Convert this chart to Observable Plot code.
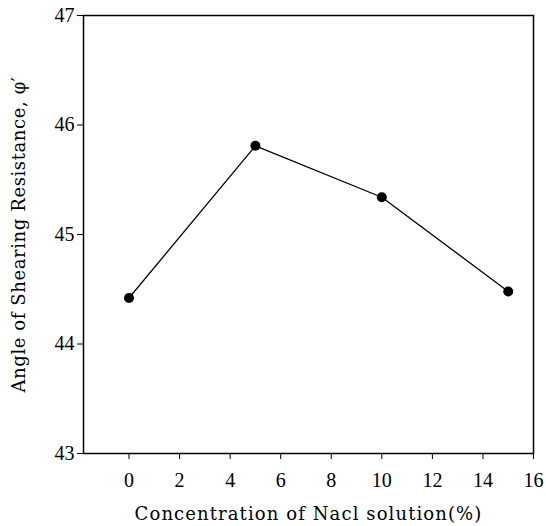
<!DOCTYPE html>
<html>
<head>
<meta charset="utf-8">
<script src="https://cdn.jsdelivr.net/npm/d3@7"></script>
<script src="https://cdn.jsdelivr.net/npm/@observablehq/plot@0.6"></script>
<style>
  html, body { margin: 0; padding: 0; background: #fff; }
  svg { display: block; }
  g[aria-label="x-axis label"] text { letter-spacing: 1.1px; }
  g[aria-label="y-axis label"] text { letter-spacing: 0.6px; }
</style>
</head>
<body>
<div id="chart"></div>
<script>
const concentration = [0, 5, 10, 15];
const angle = [44.42, 45.81, 45.34, 44.48];
const xTicks = [0, 2, 4, 6, 8, 10, 12, 14, 16];
const yTicks = [43, 44, 45, 46, 47];
const xTitle = "Concentration of Nacl solution(%)";
const yTitle = "Angle of Shearing Resistance, \u03C6\u2032";

const data = concentration.map((c, i) => ({c, a: angle[i]}));
const tickFont = "'Liberation Serif', 'DejaVu Serif', serif";
const titleFont = "'DejaVu Serif', 'Liberation Serif', serif";

const chart = Plot.plot({
  width: 546,
  height: 526,
  marginLeft: 83,
  marginRight: 13,
  marginTop: 15,
  marginBottom: 73,
  style: {fontFamily: tickFont, fontSize: "20px", color: "#000", background: "#fff"},
  x: {domain: [-1.8, 16]},
  y: {domain: [43, 47]},
  marks: [
    Plot.frame({stroke: "#000", strokeWidth: 1.5}),
    Plot.axisX({ticks: xTicks, tickFormat: "d", tickSize: 6, tickPadding: 13, fontSize: 20,
      fontFamily: tickFont, label: null}),
    Plot.axisX({ticks: [], label: xTitle, labelAnchor: "center", labelOffset: 66, labelArrow: "none",
      fontSize: 18, fontFamily: titleFont}),
    Plot.axisY({ticks: yTicks, tickFormat: "d", tickSize: 6, tickPadding: 3, fontSize: 20,
      fontFamily: tickFont, label: null}),
    Plot.axisY({ticks: [], label: yTitle, labelAnchor: "center", labelOffset: 71, labelArrow: "none",
      fontSize: 18, fontFamily: titleFont}),
    Plot.line(data, {x: "c", y: "a", stroke: "#000", strokeWidth: 1.3}),
    Plot.dot(data, {x: "c", y: "a", r: 5, fill: "#000", stroke: "none"})
  ]
});
document.getElementById("chart").appendChild(chart);
</script>
</body>
</html>
